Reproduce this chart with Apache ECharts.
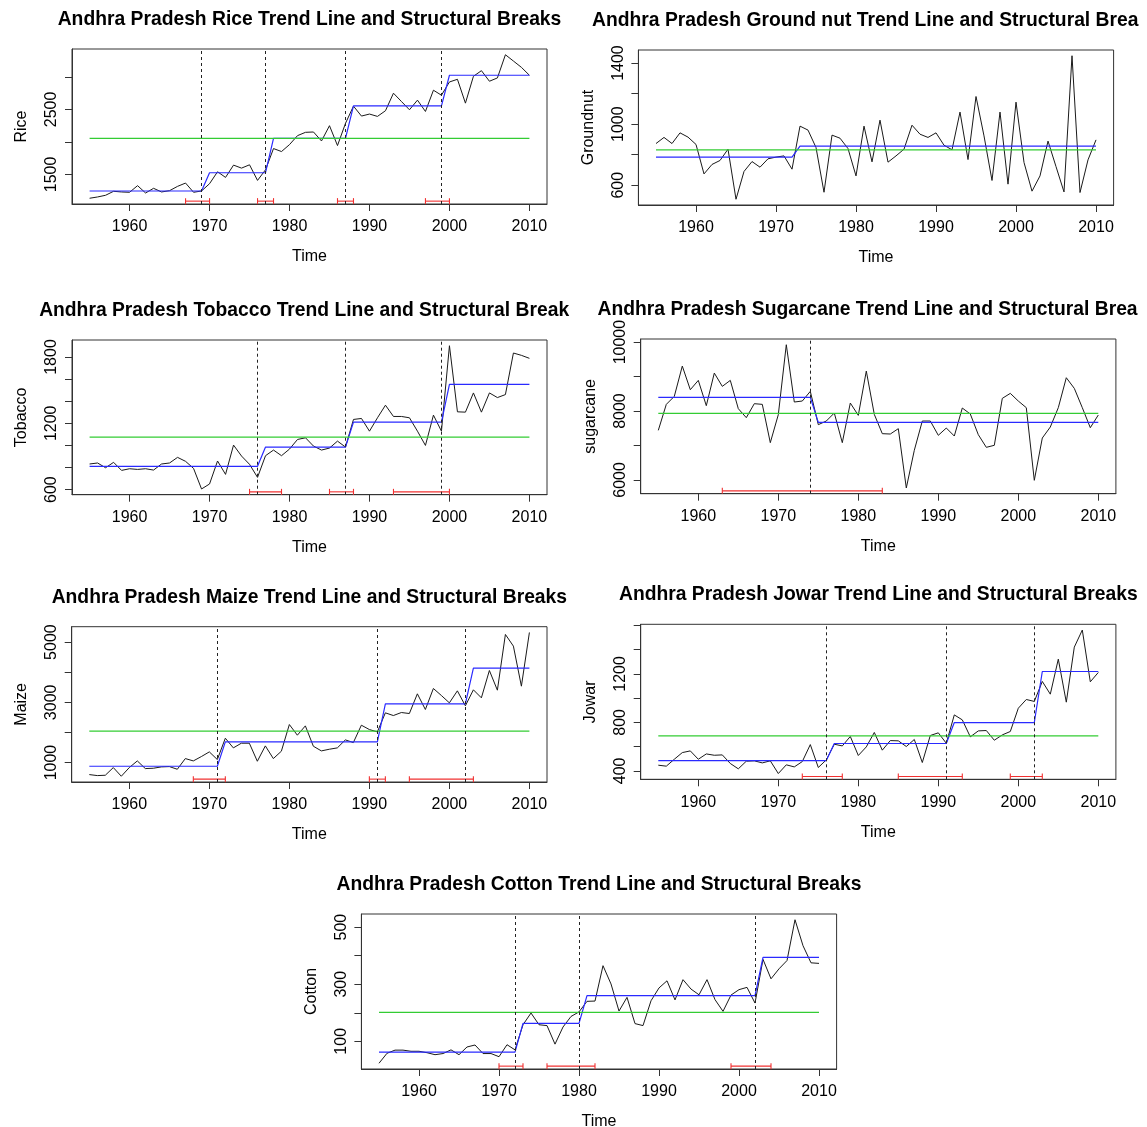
<!DOCTYPE html>
<html><head><meta charset="utf-8">
<script src="https://cdn.jsdelivr.net/npm/echarts@6/dist/echarts.min.js"></script>
<style>html,body{margin:0;padding:0;background:#fff}#c{width:1147px;height:1127px}</style>
</head><body><div id="c"></div>
<script>
const years = [1955,1956,1957,1958,1959,1960,1961,1962,1963,1964,1965,1966,1967,1968,1969,1970,1971,1972,1973,1974,1975,1976,1977,1978,1979,1980,1981,1982,1983,1984,1985,1986,1987,1988,1989,1990,1991,1992,1993,1994,1995,1996,1997,1998,1999,2000,2001,2002,2003,2004,2005,2006,2007,2008,2009,2010];
const xTicks = [1960,1970,1980,1990,2000,2010];

// Rice
const riceValues = [1133,1153,1179,1240,1230,1225,1327,1214,1286,1230,1250,1316,1367,1225,1245,1357,1541,1454,1643,1597,1648,1408,1571,1898,1852,1959,2097,2148,2153,2015,2250,1944,2286,2551,2398,2429,2393,2480,2750,2622,2495,2643,2469,2796,2719,2923,2964,2597,3010,3097,2934,2985,3342,3245,3148,3026];
const riceBreaks = [1969,1977,1987,1999];
const riceSegmentMeans = [1245,1526,2056,2556,3026];
const riceMean = 2056;
const riceCI = [[1967,1970],[1976,1978],[1986,1988],[1997,2000]];
const riceYTicks = [1500,2000,2500,3000];
const riceYLabels = [1500,2500];

// Groundnut
const groundnutValues = [873,913,873,943,915,867,674,736,762,836,508,690,755,718,773,784,792,705,987,961,847,554,928,908,840,661,987,753,1026,751,792,836,993,934,913,943,862,832,1079,768,1181,923,631,1079,607,1144,749,561,661,889,722,556,1448,552,766,897];
const groundnutBreaks = [1972];
const groundnutDrawnBreaks = [];
const groundnutSegmentMeans = [784,856];
const groundnutMean = 832;
const groundnutCI = [];
const groundnutYTicks = [600,800,1000,1200,1400];
const groundnutYLabels = [600,1000,1400];

// Tobacco
const tobaccoValues = [832,841,798,847,774,789,783,789,777,832,841,892,856,792,606,651,859,738,1003,904,829,711,907,958,907,967,1054,1069,994,958,976,1039,985,1235,1244,1129,1250,1364,1262,1262,1250,1129,1000,1274,1129,1902,1304,1301,1475,1301,1475,1433,1460,1836,1815,1788];
const tobaccoBreaks = [1976,1987,1999];
const tobaccoSegmentMeans = [811,985,1211,1553];
const tobaccoMean = 1075;
const tobaccoCI = [[1975,1979],[1985,1988],[1993,2000]];
const tobaccoYTicks = [600,800,1000,1200,1400,1600,1800];
const tobaccoYLabels = [600,1200,1800];

// Sugarcane
const sugarcaneValues = [7440,8193,8425,9304,8618,8889,8155,9101,8715,8889,8068,7807,8213,8193,7082,7894,9923,8261,8290,8570,7604,7710,7942,7082,8232,7874,9159,7903,7343,7333,7488,5768,6860,7710,7710,7295,7507,7275,8087,7913,7314,6947,7005,8367,8512,8290,8097,5990,7217,7536,8097,8966,8657,8097,7517,7884];
const sugarcaneBreaks = [1974];
const sugarcaneSegmentMeans = [8396,7671];
const sugarcaneMean = 7932;
const sugarcaneCI = [[1963,1983]];
const sugarcaneYTicks = [6000,7000,8000,9000,10000];
const sugarcaneYLabels = [6000,8000,10000];

// Maize
const maizeValues = [601,568,579,834,546,834,1055,801,812,856,867,778,1133,1055,1199,1355,1100,1809,1488,1643,1643,1044,1554,1133,1377,2263,1909,2219,1543,1388,1443,1488,1753,1665,2241,2097,2019,2651,2562,2662,2629,3283,2762,3460,3227,2983,3382,2884,3416,3150,4058,3404,5255,4867,3537,5321];
const maizeBreaks = [1971,1991,2002];
const maizeSegmentMeans = [878,1687,2950,4136];
const maizeMean = 2042;
const maizeCI = [[1968,1972],[1990,1992],[1995,2003]];
const maizeYTicks = [1000,2000,3000,4000,5000];
const maizeYLabels = [1000,3000,5000];

// Jowar
const jowarValues = [447,439,496,551,565,496,540,529,532,461,417,480,483,466,483,378,450,433,477,617,428,491,620,606,684,527,598,717,571,650,648,601,659,469,692,714,628,862,821,681,730,733,653,697,725,917,989,973,1138,1033,1322,967,1421,1562,1135,1212];
const jowarBreaks = [1976,1991,2002];
const jowarSegmentMeans = [485,626,799,1220];
const jowarMean = 689;
const jowarCI = [[1973,1978],[1985,1993],[1999,2003]];
const jowarYTicks = [400,600,800,1000,1200,1400,1600];
const jowarYLabels = [400,800,1200];

// Cotton
const cottonValues = [23,58,69,69,65,65,60,53,57,70,53,80,87,57,57,46,88,70,158,199,158,155,90,150,187,203,240,241,365,301,206,254,162,155,242,287,312,245,316,283,263,316,246,205,262,281,289,234,387,319,354,383,526,435,375,373];
const cottonBreaks = [1972,1980,2002];
const cottonSegmentMeans = [62,163,260,394];
const cottonMean = 201;
const cottonCI = [[1970,1973],[1976,1982],[1999,2004]];
const cottonYTicks = [100,200,300,400,500];
const cottonYLabels = [100,300,500];

const FONT = "'Liberation Sans', Arial, Helvetica, sans-serif";
const TITLE_FONT = "bold 19.3px 'Liberation Sans', Arial, sans-serif";

const panels = [
  {title:'Andhra Pradesh Rice Trend Line and Structural Breaks', yName:'Rice', values:riceValues, breaks:riceBreaks, drawn:riceBreaks, seg:riceSegmentMeans, mean:riceMean, ci:riceCI, yTicks:riceYTicks, yLabels:riceYLabels,
   grid:{left:72, top:49, width:475, height:155}},
  {title:'Andhra Pradesh Ground nut Trend Line and Structural Breaks', yName:'Groundnut', values:groundnutValues, breaks:groundnutBreaks, drawn:groundnutDrawnBreaks, seg:groundnutSegmentMeans, mean:groundnutMean, ci:groundnutCI, yTicks:groundnutYTicks, yLabels:groundnutYLabels,
   grid:{left:638.4, top:50, width:475.2, height:155}, clipRight:1143},
  {title:'Andhra Pradesh Tobacco Trend Line and Structural Breaks', yName:'Tobacco', values:tobaccoValues, breaks:tobaccoBreaks, drawn:tobaccoBreaks, seg:tobaccoSegmentMeans, mean:tobaccoMean, ci:tobaccoCI, yTicks:tobaccoYTicks, yLabels:tobaccoYLabels,
   grid:{left:72, top:340, width:475, height:154.7}, clipRight:573},
  {title:'Andhra Pradesh Sugarcane Trend Line and Structural Breaks', yName:'sugarcane', values:sugarcaneValues, breaks:sugarcaneBreaks, drawn:sugarcaneBreaks, seg:sugarcaneSegmentMeans, mean:sugarcaneMean, ci:sugarcaneCI, yTicks:sugarcaneYTicks, yLabels:sugarcaneYLabels,
   grid:{left:640.7, top:339, width:475.2, height:154.7}, clipRight:1143},
  {title:'Andhra Pradesh Maize Trend Line and Structural Breaks', yName:'Maize', values:maizeValues, breaks:maizeBreaks, drawn:maizeBreaks, seg:maizeSegmentMeans, mean:maizeMean, ci:maizeCI, yTicks:maizeYTicks, yLabels:maizeYLabels,
   grid:{left:71.7, top:626.7, width:475.3, height:155.3}},
  {title:'Andhra Pradesh Jowar Trend Line and Structural Breaks', yName:'Jowar', values:jowarValues, breaks:jowarBreaks, drawn:jowarBreaks, seg:jowarSegmentMeans, mean:jowarMean, ci:jowarCI, yTicks:jowarYTicks, yLabels:jowarYLabels,
   grid:{left:640.7, top:624.3, width:475.2, height:155}},
  {title:'Andhra Pradesh Cotton Trend Line and Structural Breaks', yName:'Cotton', values:cottonValues, breaks:cottonBreaks, drawn:cottonBreaks, seg:cottonSegmentMeans, mean:cottonMean, ci:cottonCI, yTicks:cottonYTicks, yLabels:cottonYLabels,
   grid:{left:361.4, top:914, width:475.2, height:155}}
];

const measureCtx = document.createElement('canvas').getContext('2d');
measureCtx.font = TITLE_FONT;

const option = {animation:false, backgroundColor:'#fff', grid:[], xAxis:[], yAxis:[], series:[], graphic:[]};
const axisColor = '#333';
const plain = v => String(Math.round(v));

function renderCI(params, api) {
  const cs = params.coordSys;
  const y = cs.y + cs.height - cs.height * 0.0185;
  const x1 = api.coord([api.value(0), api.value(2)])[0];
  const x2 = api.coord([api.value(1), api.value(2)])[0];
  const st = {stroke:'#f03030', lineWidth:1.1};
  return {type:'group', children:[
    {type:'line', shape:{x1:x1, y1:y, x2:x2, y2:y}, style:st},
    {type:'line', shape:{x1:x1, y1:y-3, x2:x1, y2:y+3}, style:st},
    {type:'line', shape:{x1:x2, y1:y-3, x2:x2, y2:y+3}, style:st}
  ]};
}

panels.forEach((p, i) => {
  const lo = Math.min(...p.values), hi = Math.max(...p.values), pad = (hi - lo) * 0.04;
  const ymin = lo - pad, ymax = hi + pad;
  option.grid.push(Object.assign({show:true, borderColor:axisColor, borderWidth:1, backgroundColor:'transparent', outerBoundsMode:'none', containLabel:false}, p.grid));
  option.xAxis.push({
    gridIndex:i, type:'value', min:1952.8, max:2012.2,
    name:'Time', nameLocation:'middle', nameGap:45,
    nameTextStyle:{fontSize:16, color:'#000', fontFamily:FONT},
    axisLine:{show:true, onZero:false, lineStyle:{color:axisColor}},
    axisTick:{show:true, inside:false, length:7, lineStyle:{color:axisColor}, customValues:xTicks},
    axisLabel:{show:true, customValues:xTicks, formatter:plain, fontSize:16, color:'#000', fontFamily:FONT, margin:15},
    splitLine:{show:false}
  });
  option.yAxis.push({
    gridIndex:i, type:'value', min:ymin, max:ymax,
    name:p.yName, nameLocation:'middle', nameGap:42, nameRotate:90,
    nameTextStyle:{fontSize:16, color:'#000', fontFamily:FONT},
    axisLine:{show:true, onZero:false, lineStyle:{color:axisColor}},
    axisTick:{show:true, inside:false, length:7, lineStyle:{color:axisColor}, customValues:p.yTicks},
    axisLabel:{show:true, customValues:p.yLabels, formatter:plain, rotate:90, fontSize:16, color:'#000', fontFamily:FONT, margin:12},
    splitLine:{show:false}
  });
  const dataPts = years.map((y, k) => [y, p.values[k]]);
  const fitted = years.map(y => [y, p.seg[p.breaks.filter(b => y > b).length]]);
  option.series.push({
    type:'line', xAxisIndex:i, yAxisIndex:i, data:dataPts, symbol:'none', silent:true,
    lineStyle:{color:'#1a1a1a', width:1}, z:2,
    markLine: p.drawn.length ? {
      silent:true, symbol:['none','none'], label:{show:false},
      lineStyle:{color:'#222', type:[3,3], width:1},
      data:p.drawn.map(b => ({xAxis:b}))
    } : undefined
  });
  option.series.push({
    type:'line', xAxisIndex:i, yAxisIndex:i, data:fitted, symbol:'none', silent:true,
    lineStyle:{color:'#2a2aff', width:1.2}, z:3
  });
  option.series.push({
    type:'line', xAxisIndex:i, yAxisIndex:i, data:[[years[0], p.mean],[years[years.length-1], p.mean]], symbol:'none', silent:true,
    lineStyle:{color:'#33cc33', width:1.3}, z:3
  });
  if (p.ci.length) {
    option.series.push({
      type:'custom', xAxisIndex:i, yAxisIndex:i, renderItem:renderCI, silent:true, z:4,
      encode:{x:[0,1], y:2},
      data:p.ci.map(c => [c[0], c[1], ymin])
    });
  }
  const cx = p.grid.left + p.grid.width / 2;
  const cy = p.grid.top - 29.5;
  const w = measureCtx.measureText(p.title).width;
  const startX = cx - w / 2;
  const style = {text:p.title, font:TITLE_FONT, fill:'#000', verticalAlign:'middle'};
  if (p.clipRight && startX + w > p.clipRight) {
    Object.assign(style, {x:startX, y:cy, align:'left', width:p.clipRight - startX, overflow:'truncate', ellipsis:''});
  } else {
    Object.assign(style, {x:cx, y:cy, align:'center'});
  }
  option.graphic.push({type:'text', silent:true, style:style, z:10});
});

const chart = echarts.init(document.getElementById('c'), null, {renderer:'canvas', width:1147, height:1127});
chart.setOption(option);
</script>
</body></html>
